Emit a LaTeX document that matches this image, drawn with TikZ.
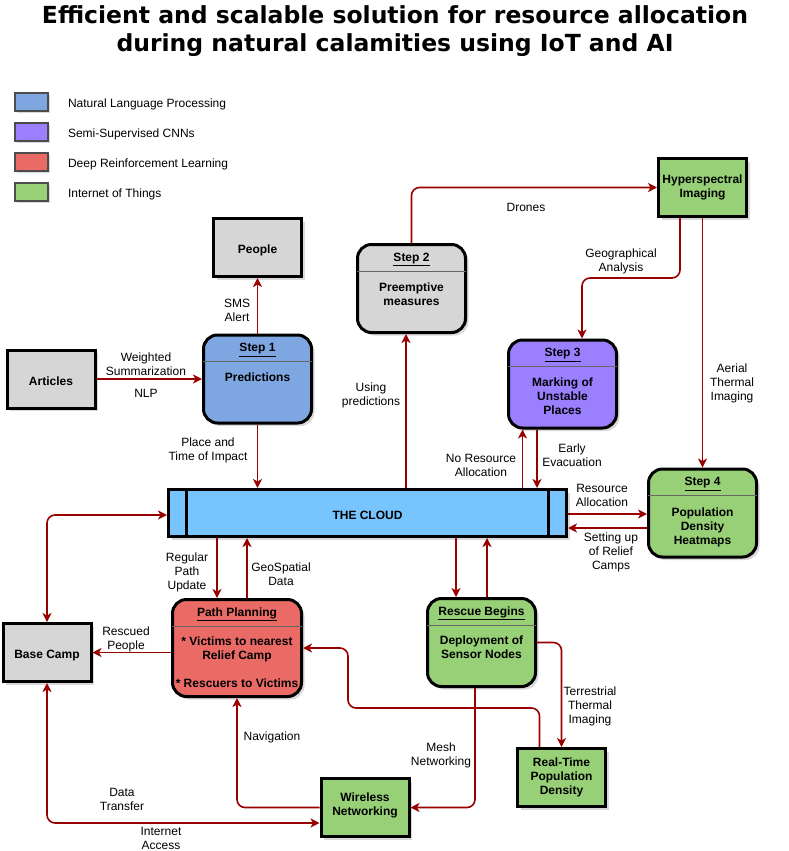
\documentclass[tikz,border=0pt]{standalone}
\usepackage{fontspec}
\setmainfont{Liberation Sans}
\newfontfamily\titlefont{DejaVu Sans}
\usepackage{xcolor}
\usepackage{tikz}
\usetikzlibrary{positioning,shapes,arrows.meta,shadows,calc}
\definecolor{nlpblue}{HTML}{7EA6E0}
\definecolor{cnnpurple}{HTML}{9A7FFF}
\definecolor{drlred}{HTML}{EA6B66}
\definecolor{iotgreen}{HTML}{97D077}
\definecolor{boxgray}{HTML}{D6D6D6}
\definecolor{cloudblue}{HTML}{77C4FF}
\definecolor{linkred}{HTML}{990000}
\tikzstyle{bx}=[%
      rectangle, draw=black, line width=3pt, fill=boxgray,
      drop shadow={shadow xshift=3pt, shadow yshift=-3pt, opacity=0.3},
      minimum width=88pt, minimum height=58pt, inner sep=0pt, align=center,
      font=\fontsize{12}{14}\selectfont\bfseries,
      execute at begin node={\rule{0pt}{13.5pt}}
]
\tikzstyle{stp}=[%
      bx, rounded corners=14pt, minimum width=108pt, minimum height=88pt
]
\tikzstyle{hd}=[%
      inner sep=0pt, font=\fontsize{12}{14}\selectfont\bfseries
]
\tikzstyle{bd}=[%
      inner sep=0pt, align=center, font=\fontsize{12}{14}\selectfont\bfseries
]
\tikzstyle{dv}=[draw=black!60, line width=0.8pt]
\tikzstyle{lg}=[%
      rectangle, draw=black!70, line width=1.6pt,
      drop shadow={shadow xshift=2pt, shadow yshift=-2pt, opacity=0.3},
      minimum width=33pt, minimum height=18pt
]
\tikzstyle{lgt}=[inner sep=0pt, anchor=west, font=\fontsize{12}{14}\selectfont]
\tikzstyle{lbl}=[inner sep=0pt, align=center, font=\fontsize{12}{14}\selectfont]
\tikzstyle{ln}=[%
      draw=linkred, line width=1.6pt, rounded corners=8pt,
      -{Stealth[length=9pt,width=9pt,inset=2.5pt]}
]
\tikzstyle{ln2}=[%
      ln, {Stealth[length=9pt,width=9pt,inset=2.5pt]}-{Stealth[length=9pt,width=9pt,inset=2.5pt]}
]
\begin{document}
\begin{tikzpicture}[x=1pt, y=-1pt]
    \useasboundingbox (0,0) rectangle (789,851);
    \node[align=center, font=\titlefont\fontsize{23.5}{28}\selectfont\bfseries] (Title) at (395,31)
      {Efficient and scalable solution for resource allocation\\during natural calamities using IoT and AI};

    % legend
    \node[lg, fill=nlpblue]   (L1) at (31.5,102) {};
    \node[lg, fill=cnnpurple] (L2) at (31.5,132) {};
    \node[lg, fill=drlred]    (L3) at (31.5,162) {};
    \node[lg, fill=iotgreen]  (L4) at (31.5,192) {};
    \node[lgt] (L1t) [right=19pt of L1, yshift=-2pt] {Natural Language Processing};
    \node[lgt] (L2t) [right=19pt of L2, yshift=-2pt] {Semi-Supervised CNNs};
    \node[lgt] (L3t) [right=19pt of L3, yshift=-2pt] {Deep Reinforcement Learning};
    \node[lgt] (L4t) [right=19pt of L4, yshift=-2pt] {Internet of Things};

    % plain boxes
    \node[bx]                (Ppl) at (257.5,247.5) {People};
    \node[bx]                (Art) at (51,379)      {Articles};
    \node[bx, fill=iotgreen] (Hyp) at (702.5,187.5) {Hyperspectral\\Imaging};
    \node[bx]                (BC)  at (47,652.5)    {Base Camp};
    \node[bx, fill=iotgreen] (RT)  at (561.5,777.5) {Real-Time\\Population\\Density};
    \node[bx, fill=iotgreen, execute at begin node={}, execute at end node={\rule[-7pt]{0pt}{0pt}}]
                             (Wl)  at (365,807.5)   {Wireless\\Networking};

    % step boxes
    \node[stp, fill=nlpblue]   (S1) at (257.5,379)   {};
    \node[stp, fill=boxgray]   (S2) at (411.5,288.5) {};
    \node[stp, fill=cnnpurple] (S3) at (562.5,384)   {};
    \node[stp, fill=iotgreen]  (S4) at (702.5,513)   {};
    \node[stp, fill=drlred, minimum width=129pt, minimum height=97pt] (PP) at (237,648) {};
    \node[stp, fill=iotgreen]  (RB) at (481.5,642.5) {};
    \foreach \b/\h in {S1/Step 1, S2/Step 2, S3/Step 3, S4/Step 4, PP/Path Planning, RB/Rescue Begins}{
      \node[hd] (\b h) at ($(\b.north)+(0,16.5)$) {\underline{\h}};
      \draw[dv] ($(\b.north west)+(1,28)$) -- ($(\b.north east)+(-1,28)$);
    }
    \node[bd] (S1b) at (257.5,377) {Predictions};
    \node[bd] (S2b) at (411.5,294) {Preemptive\\measures};
    \node[bd] (S3b) at (562.5,396) {Marking of\\Unstable\\Places};
    \node[bd] (S4b) at (702.5,527) {Population\\Density\\Heatmaps};
    \node[bd] (PPb) at (237,662) {* Victims to nearest\\Relief Camp\\[14pt]* Rescuers to Victims};
    \node[bd] (RBb) at (481.5,647) {Deployment of\\Sensor Nodes};

    % the cloud
    \node[bx, fill=cloudblue, minimum width=398pt, minimum height=47pt] (Cld) at (367.5,513) {THE CLOUD};
    \draw[line width=3pt] ([xshift=19pt]Cld.north west) -- ([xshift=19pt]Cld.south west);
    \draw[line width=3pt] ([xshift=-20pt]Cld.north east) -- ([xshift=-20pt]Cld.south east);

    % connectors
    \draw[ln] (Art) -- (S1);
    \draw[ln] (S1) -- (Ppl);
    \draw[ln] (S1.south) -- (S1.south |- Cld.north);
    \draw[ln] ([xshift=-5.5pt]S2.south |- Cld.north) -- ([xshift=-5.5pt]S2.south);
    \draw[ln] (S2.north) |- (Hyp.west);
    \draw[ln] ([xshift=-22.5pt]Hyp.south) -- ++(0,60) -| ([xshift=19.5pt]S3.north);
    \draw[ln] (Hyp) -- (S4);
    \draw[ln] ([xshift=-40pt]S3.south |- Cld.north) -- ([xshift=-40pt]S3.south);
    \draw[ln] ([xshift=-25.5pt]S3.south) -- ([xshift=-25.5pt]S3.south |- Cld.north);
    \draw[ln] ([yshift=-1pt]Cld.east) -- ([yshift=-1pt]Cld.east -| S4.west);
    \draw[ln] ([yshift=-15pt]S4.west) -- ([yshift=-15pt]S4.west -| Cld.east);
    \draw[ln] ([xshift=-25.5pt]RB.north |- Cld.south) -- ([xshift=-25.5pt]RB.north);
    \draw[ln] ([xshift=5.5pt]RB.north) -- ([xshift=5.5pt]RB.north |- Cld.south);
    \draw[ln] ([xshift=-20pt]PP.north |- Cld.south) -- ([xshift=-20pt]PP.north);
    \draw[ln] ([xshift=10pt]PP.north) -- ([xshift=10pt]PP.north |- Cld.south);
    \draw[ln2] ([yshift=-2pt]Cld.west) -| (BC.north);
    \draw[ln] (PP.west |- BC.east) -- (BC.east);
    \draw[ln] (RB.east) -| (RT.north);
    \draw[ln] ([xshift=-22pt]RT.north) -- ++(0,-39) -| ([xshift=45pt]PP.east) -- (PP.east);
    \draw[ln] ([xshift=-6.5pt]RB.south) |- (Wl.east);
    \draw[ln] (Wl.west) -| (PP.south);
    \draw[ln2] (BC.south) |- ([yshift=-15.5pt]Wl.west);

    % connector labels
    \node[lbl] (lWS)  at (146,364.5) {Weighted\\Summarization};
    \node[lbl] (lNLP) at (146,393)   {NLP};
    \node[lbl] (lSMS) at (237,310.5) {SMS\\Alert};
    \node[lbl] (lPT)  at (208,450.5) {Place and\\Time of Impact};
    \node[lbl] (lUP)  at (371,395.5) {Using\\predictions};
    \node[lbl] (lDr)  at (526,207.5) {Drones};
    \node[lbl] (lGA)  at (621,261)   {Geographical\\Analysis};
    \node[lbl] (lAT)  at (732,383)   {Aerial\\Thermal\\Imaging};
    \node[lbl] (lNR)  at (481,465)   {No Resource\\Allocation};
    \node[lbl] (lEE)  at (572,455.5) {Early\\Evacuation};
    \node[lbl] (lRA)  at (602,495)   {Resource\\Allocation};
    \node[lbl] (lSU)  at (611,552.5) {Setting up\\of Relief\\Camps};
    \node[lbl] (lRP)  at (187,572.5) {Regular\\Path\\Update};
    \node[lbl] (lGS)  at (281,574.5) {GeoSpatial\\Data};
    \node[lbl] (lRs)  at (126,639)   {Rescued\\People};
    \node[lbl] (lTT)  at (590,706.5) {Terrestrial\\Thermal\\Imaging};
    \node[lbl] (lMN)  at (441,755)   {Mesh\\Networking};
    \node[lbl] (lNv)  at (272,737.5) {Navigation};
    \node[lbl] (lDT)  at (122,799.5) {Data\\Transfer};
    \node[lbl] (lIA)  at (161,838)   {Internet\\Access};
\end{tikzpicture}
\end{document}
